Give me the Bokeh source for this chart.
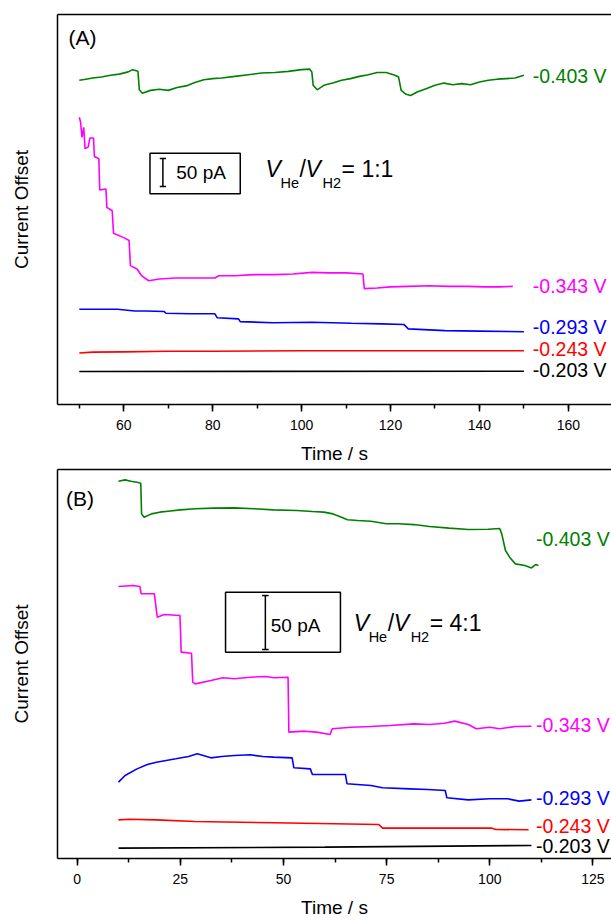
from bokeh.plotting import figure
from bokeh.layouts import column
from bokeh.models import LinearAxis, FixedTicker, SingleIntervalTicker, Range1d
from bokeh.core.properties import value
from bokeh.embed import file_html
from bokeh.resources import INLINE

FONT = "Liberation Sans"

# ---------------- Panel A (V_He/V_H2 = 1:1) ----------------
a_labels = ["-0.403 V", "-0.343 V", "-0.293 V", "-0.243 V", "-0.203 V"]
a_label_y = [586, 211, 139, 99, 61]

a_green_t = [50.0, 51.5, 53, 55, 57, 59, 61, 62, 63.2, 63.5, 64.2, 66, 68, 70, 72, 74, 76, 78, 80, 82, 85, 88, 91,
             94, 97, 100, 101.8, 102.3, 102.6, 103.5, 105, 107, 109, 111, 113, 115, 117, 119, 121, 121.8, 122.4,
             123.5, 124.5, 126, 128, 130, 132, 134, 136, 138, 140, 142, 144, 146, 148, 150]
a_green_y = [579, 581, 583, 585, 588, 590, 594, 598, 595, 562, 556, 561, 563, 561, 566, 569, 575, 580, 582, 583, 586,
             589, 592, 593, 595, 598, 599, 594, 570, 562, 570, 574, 579, 582, 586, 589, 593, 593, 588, 585, 561,
             554, 552, 558, 564, 570, 574, 571, 573, 571, 576, 579, 581, 582, 583, 588]

a_magenta_t = [50.0, 50.3, 50.6, 51.0, 51.3, 52.0, 52.4, 53.2, 53.4, 54.4, 54.6, 56.0, 56.2, 57.4, 57.7, 60, 61.2,
               61.5, 63.0, 64.0, 65.6, 68, 71.7, 76, 80.5, 81.4, 85, 89.3, 94, 98, 102.4, 106, 110, 113.8, 114.1,
               117, 120, 124, 128.7, 133, 137.5, 141, 144.5, 147.5]
a_magenta_y = [513, 504, 477, 495, 457, 460, 476, 476, 443, 439, 383, 385, 352, 346, 306, 298, 293, 248, 242, 230,
               221, 224, 226, 226, 226, 230, 230, 232, 232, 233, 236, 235, 235, 233, 207, 208, 210, 211, 212, 211,
               211, 210, 210, 211]

a_blue_t = [50, 55, 58.6, 62.5, 65, 69.1, 69.5, 75, 80.5, 81, 85.8, 86.2, 93.6, 102.4, 111.2, 118, 123, 124, 132.2,
            140, 150]
a_blue_y = [170, 170, 170, 167, 167, 166, 163, 162, 162, 155, 153, 148, 146, 147, 145, 144, 143, 135, 132, 131, 130]

a_red_t = [50, 53, 60, 70, 80, 100, 120, 140, 150]
a_red_y = [92, 93.5, 94, 95, 95, 96, 96, 96, 96]

a_black_t = [50, 150]
a_black_y = [59, 59.5]

# ---------------- Panel B (V_He/V_H2 = 4:1) ----------------
b_labels = ["-0.403 V", "-0.343 V", "-0.293 V", "-0.243 V", "-0.203 V"]
b_label_y = [295.4, 123.2, 55.9, 30, 11.2]

b_green_t = [10.0, 11.6, 13, 14.5, 15.4, 15.6, 16.2, 18, 20, 22, 25, 28.6, 33, 38.1, 42.8, 47.6, 53.2, 57, 59.8, 62,
             63.6, 65.5, 68, 71.2, 74.9, 78, 81.6, 85.4, 90.1, 94.8, 99.6, 102.4, 102.9, 103.8, 104.8, 106.2, 108.5,
             110.1, 111.1, 111.8]
b_green_y = [349.4, 350.6, 349.4, 348.4, 347.5, 319.1, 316.0, 319.1, 320.7, 321.6, 322.8, 323.8, 324.4, 324.7, 323.8,
             322.8, 322.2, 321.3, 320.7, 319.1, 316.7, 313.6, 313.0, 312.3, 309.9, 309.9, 309.2, 307.4, 305.9, 304.6,
             304.9, 305.5, 300.6, 285.2, 279.0, 272.8, 271.3, 269.1, 272.2, 271.3]

b_magenta_t = [10, 13.5, 15.2, 15.5, 18.7, 19.4, 21.1, 24.9, 25.2, 27.7, 28.0, 28.6, 32.4, 35.3, 38.1, 41.9, 45.7,
               47.6, 51.1, 51.3, 55.1, 58, 61.3, 61.8, 66.5, 71, 75.9, 81.6, 85.4, 89, 91.5, 94.8, 96.7, 100, 102.4,
               106.2, 110.1]
b_magenta_y = [251.8, 252.8, 251.8, 245.1, 245.1, 223.5, 226.0, 225.0, 191.1, 190.1, 163.3, 161.7, 164.8, 167.3,
               166.4, 167.9, 168.5, 167.3, 167.9, 117.0, 117.9, 117.0, 114.8, 120.1, 121.6, 122.2, 123.2, 124.7,
               124.1, 125.3, 127.2, 124.1, 120.1, 121.6, 120.1, 122.2, 122.5]

b_blue_t = [10, 11.6, 14.5, 17, 19.2, 23.9, 27, 29.1, 32.4, 35, 38.1, 41.9, 45, 47.6, 52.1, 52.5, 56.5, 57, 60, 65,
            65.4, 71.2, 74, 80.6, 85, 89.2, 89.6, 94.8, 100, 104.3, 107.1, 110.1]
b_blue_y = [70.7, 76.9, 83.0, 87.1, 89.2, 92.3, 94.5, 96.9, 93.2, 94.5, 95.4, 96.0, 94.5, 93.9, 93.2, 84.0, 83.0,
            77.8, 77.8, 77.8, 69.2, 67.6, 65.5, 64.5, 63.9, 63.0, 56.2, 54.3, 55.3, 55.3, 53.1, 54.3]

b_red_t = [10, 12.6, 19.2, 28.6, 47.6, 73.1, 74, 100.5, 101.5, 109.4]
b_red_y = [35.8, 36.4, 35.8, 34.3, 33.1, 31.5, 28.1, 28.1, 26.9, 26.6]

b_black_t = [10, 60, 110.1]
b_black_y = [9.6, 10.5, 12.1]

COLORS = ["#008000", "#ff00ff", "#0000ff", "#ff0000", "#000000"]


def make_panel(x_range, y_range, interval, height, border_top, border_bottom, traces, labels, label_y, label_x,
               letter, letter_xy, box, bar_x, bar_y, bar_cap, pa_xy, ratio_xy, ratio_text):
    p = figure(width=611, height=height, x_range=Range1d(*x_range), y_range=Range1d(*y_range),
               output_backend="svg", toolbar_location=None,
               min_border_left=57, min_border_right=0, min_border_top=border_top,
               min_border_bottom=border_bottom)
    p.outline_line_color = None
    p.grid.visible = False
    p.background_fill_color = "white"
    p.border_fill_color = "white"

    xa = p.xaxis[0]
    xa.ticker = SingleIntervalTicker(interval=interval, num_minor_ticks=2)
    xa.axis_line_width = 1.5
    xa.axis_line_color = "black"
    xa.major_tick_line_width = 1.5
    xa.minor_tick_line_width = 1.5
    xa.major_tick_out = 7
    xa.major_tick_in = 0
    xa.minor_tick_out = 4
    xa.minor_tick_in = 0
    xa.major_label_text_font = FONT
    xa.major_label_text_font_size = "14px"
    xa.major_label_text_color = "black"
    xa.major_label_standoff = 8
    xa.axis_label = "Time / s"
    xa.axis_label_text_font = FONT
    xa.axis_label_text_font_size = "19px"
    xa.axis_label_text_font_style = "normal"
    xa.axis_label_text_color = "black"
    xa.axis_label_standoff = 10

    ya = p.yaxis[0]
    ya.ticker = FixedTicker(ticks=[])
    ya.axis_line_width = 1.5
    ya.axis_line_color = "black"
    ya.major_tick_line_color = None
    ya.minor_tick_line_color = None
    ya.major_label_standoff = 0
    ya.axis_label = "Current Offset"
    ya.axis_label_text_font = FONT
    ya.axis_label_text_font_size = "19px"
    ya.axis_label_text_font_style = "normal"
    ya.axis_label_text_color = "black"
    ya.axis_label_standoff = 26

    top = LinearAxis(ticker=FixedTicker(ticks=[]), axis_line_width=1.5, axis_line_color="black",
                     major_tick_line_color=None, minor_tick_line_color=None,
                     major_label_text_font_size="0px")
    p.add_layout(top, "above")

    for (t, y), c in zip(traces, COLORS):
        p.line(t, y, line_color=c, line_width=1.6)

    p.text(x=[label_x] * len(labels), y=label_y, text=labels, text_color=COLORS,
           text_font=value(FONT), text_font_size="19.5px", text_baseline="middle", text_align="left")

    p.text(x=[letter_xy[0]], y=[letter_xy[1]], text=[letter], text_color="black",
           text_font=value(FONT), text_font_size="21px", text_baseline="middle", text_align="left")

    # scale box and 50 pA bar
    p.quad(left=[box[0]], right=[box[1]], bottom=[box[2]], top=[box[3]], fill_color=None,
           line_color="black", line_width=1.5)
    p.segment(x0=[bar_x], y0=[bar_y], x1=[bar_x], y1=[bar_y + 50], line_color="black", line_width=1.5)
    p.segment(x0=[bar_x - bar_cap, bar_x - bar_cap], y0=[bar_y, bar_y + 50],
              x1=[bar_x + bar_cap, bar_x + bar_cap], y1=[bar_y, bar_y + 50], line_color="black", line_width=1.5)
    p.text(x=[pa_xy[0]], y=[pa_xy[1]], text=["50 pA"], text_color="black",
           text_font=value(FONT), text_font_size="19px", text_baseline="middle", text_align="left")

    # V_He / V_H2 = ratio
    rx, ry = ratio_xy
    pieces = [("V", 0, 0, "23px", "italic"),
              ("He", 15, 14, "14.5px", "normal"),
              ("/", 34, 0, "23px", "normal"),
              ("V", 40, 0, "23px", "italic"),
              ("H2", 57, 14, "14.5px", "normal"),
              ("= " + ratio_text, 76, 0, "23px", "normal")]
    for txt, dx, dy, size, style in pieces:
        p.text(x=[rx], y=[ry], text=[txt], x_offset=dx, y_offset=dy, text_color="black",
               text_font=value(FONT), text_font_size=size, text_font_style=style,
               text_baseline="middle", text_align="left")
    return p


pa = make_panel(x_range=(45.1, 169.7), y_range=(0, 696.5), interval=20, height=466, border_top=14,
                border_bottom=62,
                traces=[(a_green_t, a_green_y), (a_magenta_t, a_magenta_y), (a_blue_t, a_blue_y),
                        (a_red_t, a_red_y), (a_black_t, a_black_y)],
                labels=a_labels, label_y=a_label_y, label_x=152.0,
                letter="(A)", letter_xy=(47.6, 655.5),
                box=(65.9, 86.2, 376.3, 448.8), bar_x=68.8, bar_y=389.3, bar_cap=0.7,
                pa_xy=(71.8, 414.3), ratio_xy=(91.9, 419.7), ratio_text="1:1")

pb = make_panel(x_range=(-4.78, 129.5), y_range=(0, 360.2), interval=25, height=454, border_top=3,
                border_bottom=62,
                traces=[(b_green_t, b_green_y), (b_magenta_t, b_magenta_y), (b_blue_t, b_blue_y),
                        (b_red_t, b_red_y), (b_black_t, b_black_y)],
                labels=b_labels, label_y=b_label_y, label_x=111.2,
                letter="(B)", letter_xy=(-2.7, 333.1),
                box=(35.95, 63.8, 191.0, 246.6), bar_x=45.6, bar_y=193.5, bar_cap=0.8,
                pa_xy=(46.9, 215.8), ratio_xy=(67.0, 218.5), ratio_text="4:1")

layout = column(pa, pb, spacing=0)
open("out.html", "w").write(file_html(layout, INLINE))
